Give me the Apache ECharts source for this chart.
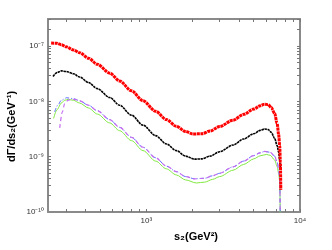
<!DOCTYPE html>
<html><head><meta charset="utf-8">
<script src="https://cdn.jsdelivr.net/npm/echarts@6/dist/echarts.min.js"></script>
<style>html,body{margin:0;padding:0;background:#fff}#c{width:332px;height:250px}</style>
</head><body><div id="c"></div>
<script>
// s2 (GeV^2) and log10 of dGamma/ds2 (GeV^-1)
const redS   = [240,260,280,301,335,368,420,480,577,670,800,951,1150,1350,1567,1800,2010,2300,2600,3000,3664,4300,5000,5500,5890,6200,6500,6840,7100,7260,7380,7450,7500];
const redLog = [-6.945,-6.95,-6.975,-7.015,-7.07,-7.12,-7.22,-7.33,-7.49,-7.63,-7.81,-7.99,-8.18,-8.33,-8.45,-8.545,-8.59,-8.585,-8.535,-8.455,-8.34,-8.235,-8.14,-8.08,-8.05,-8.06,-8.11,-8.22,-8.40,-8.60,-8.80,-9.10,-9.60];
const blackS   = [247,262,280,300,335,368,420,480,577,670,800,951,1150,1350,1567,1800,2060,2300,2600,3000,3664,4300,5000,5500,5890,6200,6500,6840,7100,7260,7380,7430];
const blackLog = [-7.55,-7.48,-7.45,-7.46,-7.50,-7.56,-7.66,-7.77,-7.93,-8.07,-8.25,-8.43,-8.62,-8.77,-8.89,-8.99,-9.045,-9.04,-8.99,-8.91,-8.79,-8.68,-8.585,-8.525,-8.50,-8.51,-8.56,-8.67,-8.80,-8.92,-9.06,-9.20];
const blueS   = [253,265,280,302,335,368,420,480,577,670,800,951,1150,1350,1567,1800,2060,2400,2700,3000,3664,4300,5000,5500,5890,6400,6840,7100,7260,7380,7450];
const blueLog = [-8.19,-8.07,-7.98,-7.935,-7.95,-7.99,-8.07,-8.17,-8.33,-8.47,-8.65,-8.83,-9.02,-9.17,-9.27,-9.36,-9.40,-9.39,-9.345,-9.30,-9.185,-9.08,-8.98,-8.93,-8.905,-8.92,-8.99,-9.10,-9.22,-9.40,-10.3];
const purpleS   = [273,284,294,310,325,350,368,420,480,577,670,800,951,1150,1350,1567,1800,2060,2400,2700,3000,3664,4300,5000,5500,5890,6400,6840,7100,7260,7380,7450];
const purpleLog = [-8.48,-8.19,-8.04,-7.98,-7.96,-7.97,-7.99,-8.07,-8.17,-8.33,-8.47,-8.65,-8.83,-9.02,-9.17,-9.27,-9.36,-9.40,-9.39,-9.345,-9.30,-9.185,-9.08,-8.98,-8.93,-8.905,-8.92,-8.99,-9.10,-9.22,-9.40,-10.3];
const greenS   = [249,262,280,294,310,335,368,420,480,577,670,800,951,1150,1350,1567,1800,2115,2400,2700,3000,3664,4300,5000,5500,6040,6400,6840,7100,7260,7380,7450];
const greenLog = [-8.31,-8.15,-8.03,-7.98,-7.965,-7.98,-8.03,-8.12,-8.23,-8.39,-8.53,-8.71,-8.89,-9.08,-9.22,-9.33,-9.42,-9.475,-9.46,-9.41,-9.36,-9.245,-9.14,-9.04,-8.985,-8.96,-8.975,-9.06,-9.18,-9.30,-9.45,-10.3];

const xTicks = [300,400,500,600,700,800,900,1000,2000,3000,4000,5000,6000,7000,8000,9000,10000];
const xLabels = [1000,10000];
const yTicks = [2e-10,3e-10,4e-10,5e-10,6e-10,7e-10,8e-10,9e-10,1e-9,2e-9,3e-9,4e-9,5e-9,6e-9,7e-9,8e-9,9e-9,1e-8,2e-8,3e-8,4e-8,5e-8,6e-8,7e-8,8e-8,9e-8,1e-7,2e-7,3e-7];
const yLabels = [1e-10,1e-9,1e-8,1e-7];

const sup = {'-':'\u207B','0':'\u2070','1':'\u00B9','2':'\u00B2','3':'\u00B3','4':'\u2074','5':'\u2075','6':'\u2076','7':'\u2077','8':'\u2078','9':'\u2079'};
function pow10(v){ const e = Math.round(Math.log10(v)); return '10' + String(e).split('').map(c=>sup[c]).join(''); }
function zip(s,l){ return s.map((x,i)=>[x, Math.pow(10, l[i])]); }

const axisLine = {show:true, lineStyle:{color:'#8a8a8a', width:2}};
const font = 'Liberation Sans, Arial, sans-serif';
function xAx(pos, labels){
  return {type:'log', position:pos, min:229, max:10000, logBase:10,
    axisLine:axisLine, splitLine:{show:false},
    axisTick:{show:true, inside:true, length:3, customValues:xTicks, lineStyle:{color:'#777', width:1}},
    axisLabel:{show:labels, customValues:xLabels, formatter:pow10, color:'#333', fontSize:8, fontFamily:font, margin:5}};
}
function yAx(pos, labels){
  return {type:'log', position:pos, min:1e-10, max:3.08e-7, logBase:10,
    axisLine:axisLine, splitLine:{show:false},
    axisTick:{show:true, inside:true, length:3, customValues:yTicks, lineStyle:{color:'#777', width:1}},
    axisLabel:{show:labels, customValues:yLabels, formatter:pow10, color:'#333', fontSize:8, fontFamily:font, margin:4}};
}
function ser(name, s, l, color, width, type){
  return {name, type:'line', data:zip(s,l), showSymbol:false, smooth:0.3, smoothMonotone:'x', clip:true,
    lineStyle:{color, width, type}, xAxisIndex:0, yAxisIndex:0};
}

const chart = echarts.init(document.getElementById('c'), null, {renderer:'canvas'});
chart.setOption({
  animation:false,
  backgroundColor:'#fff',
  grid:{left:48, right:32, top:19, bottom:38},
  xAxis:[xAx('bottom', true), xAx('top', false)],
  yAxis:[yAx('left', true), yAx('right', false)],
  graphic:[
    {type:'text', left:174, top:231, style:{text:'s\u2082(GeV\u00B2)', font:'bold 11px '+font, fill:'#000', textAlign:'center'}},
    {type:'text', x:6, y:162, rotation:Math.PI/2, style:{text:'d\u0393/ds\u2082(GeV\u207B\u00B9)', font:'bold 11px '+font, fill:'#000', textAlign:'left', textVerticalAlign:'top'}}
  ],
  series:[
    ser('green', greenS, greenLog, '#80e840', 1, 'solid'),
    ser('blue', blueS, blueLog, '#5a6cff', 1, [4,2,1,2]),
    ser('purple', purpleS, purpleLog, '#c46cf0', 1.2, [4,3]),
    ser('black', blackS, blackLog, '#000', 1.6, [2.5,0.6]),
    ser('red', redS, redLog, '#ff0000', 3, [3,0.6])
  ]
});
</script></body></html>
